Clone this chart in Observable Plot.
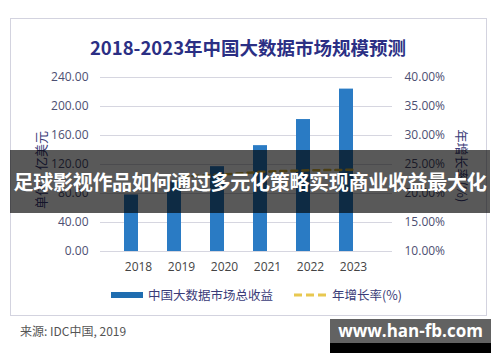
<!DOCTYPE html>
<html>
<head>
<meta charset="utf-8">
<script src="https://cdn.jsdelivr.net/npm/d3@7"></script>
<script src="https://cdn.jsdelivr.net/npm/@observablehq/plot@0.6"></script>
<style>
  html, body { margin: 0; padding: 0; background: #fff; }
  #wrap { position: relative; width: 500px; height: 362px; overflow: hidden; font-family: "Open Sans", "Noto Sans CJK SC", sans-serif; }
  #wrap > svg { position: absolute; left: 0; top: 0; }
  .abs { position: absolute; white-space: nowrap; }
  #frame { left: 10px; top: 18px; width: 475px; height: 296px; border: 1.5px solid #d3d3df; }
  #title { left: 0; width: 496px; top: 34px; text-align: center; font-family: "Noto Sans CJK SC", sans-serif; font-weight: 700; font-size: 18.5px; color: #2b2f84; line-height: 26px; }
  #ylab { left: 40px; top: 170px; transform: translate(-50%, -50%) rotate(-90deg); font-family: "Noto Sans CJK SC", sans-serif; font-size: 13px; color: #3a3c78; }
  #y2lab { left: 462px; top: 166px; transform: translate(-50%, -50%) rotate(90deg); font-family: "Noto Sans CJK SC", sans-serif; font-size: 13px; color: #3a3c78; }
  #legend { left: 111px; top: 286px; font-family: "Noto Sans CJK SC", sans-serif; font-size: 12.5px; color: #3a3c78; display: flex; align-items: center; line-height: 18px; }
  .sw-bar { display: inline-block; width: 32px; height: 6px; background: #1f6db0; margin-right: 5px; }
  .sw-line { display: inline-block; margin-left: 21px; margin-right: 5px; }
  #source { left: 20px; top: 322px; font-family: "Noto Sans CJK SC", sans-serif; font-size: 12px; color: #555; }
  #banner { left: 10px; top: 150px; width: 480px; height: 63px; background: rgba(0,0,0,0.65); color: #fff; font-family: "Noto Sans CJK SC", sans-serif; font-weight: 700; font-size: 20px; line-height: 63px; text-align: center; letter-spacing: -0.3px; }
  #wm { left: 330px; top: 319px; width: 161px; height: 34px; background: #626262; border-bottom: 10px solid #000; box-sizing: border-box; color: #fff; font-family: "Open Sans", "DejaVu Sans", sans-serif; font-weight: 700; font-size: 17px; line-height: 24px; text-align: center; }
</style>
</head>
<body>
<div id="wrap">
  <div id="frame" class="abs"></div>
  <div id="title" class="abs">2018-2023年中国大数据市场规模预测</div>
  <div id="ylab" class="abs">单位：亿美元</div>
  <div id="y2lab" class="abs">年增长率(%)</div>
  <div id="legend" class="abs"><span class="sw-bar"></span><span>中国大数据市场总收益</span><svg class="sw-line" width="33" height="6"><line x1="0" y1="3" x2="33" y2="3" stroke="#e8c850" stroke-width="3" stroke-dasharray="8,4"/></svg><span>年增长率(%)</span></div>
  <div id="source" class="abs">来源: IDC中国, 2019</div>
</div>
<script>
// Data
const years = ["2018", "2019", "2020", "2021", "2022", "2023"];
const revenue = [78, 96, 117, 146, 182, 224];            // 亿美元
const growthYears = ["2019", "2020", "2021", "2022", "2023"];
const growth = [22.9, 23.3, 23.8, 24.0, 24.1];           // %
const leftTicks = [0, 40, 80, 120, 160, 200, 240];
const rightTicks = [10, 15, 20, 25, 30, 35, 40];          // %

const barData = years.map((y, i) => ({year: y, value: revenue[i]}));
const lineData = growthYears.map((y, i) => ({year: y, rate: growth[i]}));
// map right-axis percent onto the left-axis scale
const pctToY = p => (p - rightTicks[0]) / (rightTicks[rightTicks.length - 1] - rightTicks[0]) * leftTicks[leftTicks.length - 1];

const chart = Plot.plot({
  width: 500,
  height: 362,
  marginLeft: 100,
  marginRight: 108,
  marginTop: 77,
  marginBottom: 111,
  style: {fontSize: "12px", fontFamily: "'Open Sans', 'Noto Sans CJK SC', sans-serif", color: "#4d4f72", background: "transparent"},
  x: {domain: years, padding: 0.67, label: null},
  y: {domain: [0, 240], label: null},
  marks: [
    Plot.gridY(leftTicks, {stroke: "#d6d6e0", strokeOpacity: 1, strokeWidth: 1}),
    Plot.barY(barData, {x: "year", y: "value", fill: "#2a7bc4", dx: -7}),
    Plot.lineY(lineData, {x: "year", y: d => pctToY(d.rate), stroke: "#d9b63a", strokeWidth: 2.5, strokeDasharray: "6,5"}),
    Plot.axisY(leftTicks, {anchor: "left", label: null, tickSize: 0, tickPadding: 12, tickFormat: d => d.toFixed(2)}),
    Plot.axisY(rightTicks.map(pctToY), {anchor: "right", label: null, tickSize: 0, tickPadding: 12, tickFormat: (d, i) => rightTicks[i].toFixed(2) + "%"}),
    Plot.axisX({anchor: "bottom", label: null, tickSize: 0, tickPadding: 11, fill: "#444"})
  ]
});
const wrap = document.getElementById("wrap");
wrap.insertBefore(chart, wrap.children[1]);

const banner = document.createElement("div");
banner.id = "banner"; banner.className = "abs";
banner.textContent = "足球影视作品如何通过多元化策略实现商业收益最大化";
wrap.appendChild(banner);
const wm = document.createElement("div");
wm.id = "wm"; wm.className = "abs";
wm.textContent = "www.han-fb.com";
wrap.appendChild(wm);
</script>
</body>
</html>
